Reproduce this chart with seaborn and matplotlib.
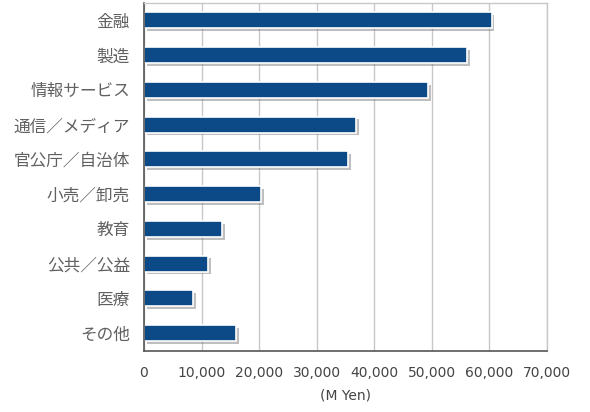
import pandas as pd
import seaborn as sns
import matplotlib.pyplot as plt
import matplotlib.patheffects as pe
from matplotlib.ticker import FuncFormatter, MultipleLocator

# 業種別 (M Yen)
industries = ["金融", "製造", "情報サービス", "通信／メディア", "官公庁／自治体",
              "小売／卸売", "教育", "公共／公益", "医療", "その他"]
sales = [60400, 56200, 49300, 36900, 35400, 20300, 13600, 11200, 8600, 16000]
x_ticks = [0, 10000, 20000, 30000, 40000, 50000, 60000, 70000]

df = pd.DataFrame({"industry": industries, "sales": sales})

sns.set_style("white")
plt.rcParams["font.family"] = ["Noto Sans CJK JP", "DejaVu Sans"]

fig = plt.figure(figsize=(5.9, 4.12), dpi=100)
ax = fig.add_axes([0.244, 0.149, 0.683, 0.844])

sns.barplot(data=df, x="sales", y="industry", orient="h", color="#0b4a86",
            width=0.46, saturation=1, edgecolor="white", linewidth=1.2, ax=ax)

# バーの影
for p in ax.patches:
    p.set_path_effects([pe.SimplePatchShadow(offset=(2, -2), shadow_rgbFace="#808080", alpha=0.5),
                        pe.Normal()])

ax.set_xlim(x_ticks[0], x_ticks[-1])
ax.set_ylim(len(industries) - 0.5, -0.5)
ax.set_xticks(x_ticks)
ax.xaxis.set_major_formatter(FuncFormatter(lambda v, _: f"{int(v):,}"))
ax.yaxis.set_minor_locator(MultipleLocator(1, offset=0.5))
ax.tick_params(axis="y", which="major", length=0, pad=10)
ax.tick_params(axis="y", which="minor", length=4, color="#555555", width=1)
ax.tick_params(axis="x", length=5, color="#555555", width=1, pad=6)
ax.grid(axis="x", color="#c8c8c8", linewidth=1)
ax.set_axisbelow(True)

for lab in ax.get_yticklabels():
    lab.set_fontsize(12)
    lab.set_color("#606060")
for lab in ax.get_xticklabels():
    lab.set_fontsize(10)
    lab.set_color("#444444")
    lab.set_family("DejaVu Sans")

ax.set_ylabel("")
ax.set_xlabel("(M Yen)", fontsize=10, color="#444444", labelpad=6, family="DejaVu Sans")

for side in ["left", "bottom"]:
    ax.spines[side].set_color("#555555")
    ax.spines[side].set_linewidth(1.2)
for side in ["top", "right"]:
    ax.spines[side].set_color("#c8c8c8")
    ax.spines[side].set_linewidth(1)

fig.savefig("out.png", dpi=100)
